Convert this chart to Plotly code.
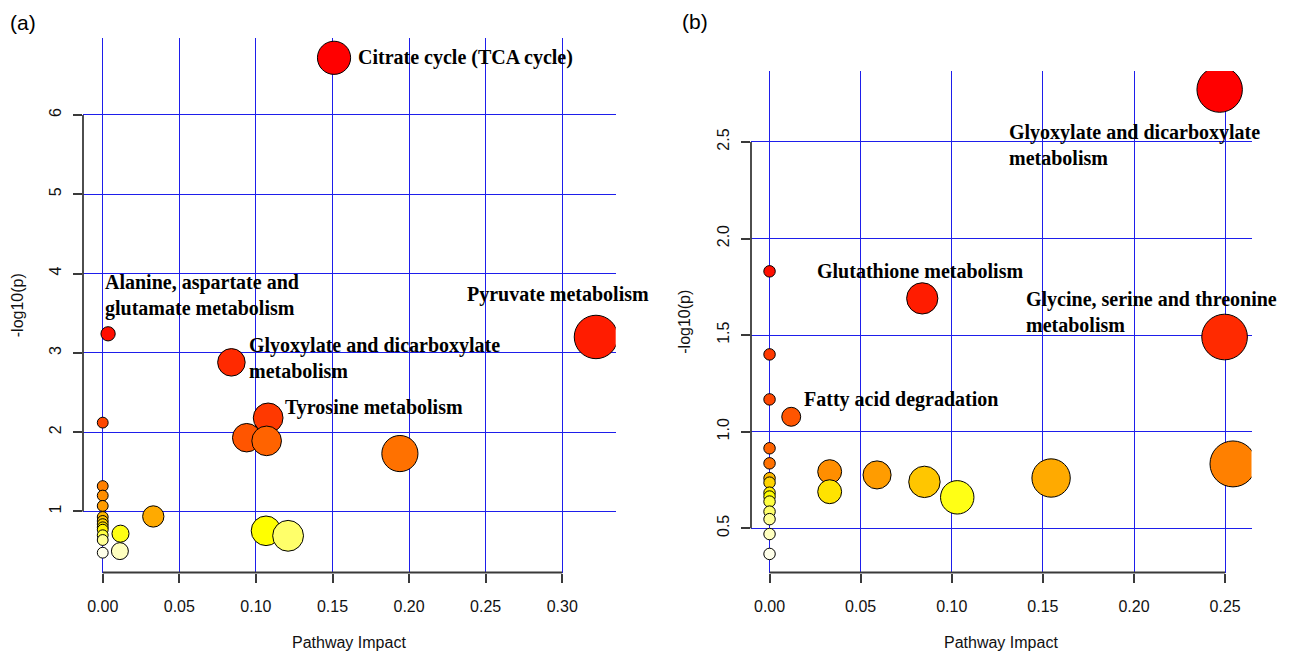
import math
import colorsys
import plotly.graph_objects as go

# ---------------- data ----------------
# Panel (a)
a_impact = [0.151, 0.0035, 0.322, 0.084, 0.108, 0.0, 0.094, 0.107, 0.194,
            0.0, 0.0, 0.0, 0.033, 0.0, 0.0, 0.0, 0.0, 0.0,
            0.1066, 0.0116, 0.0, 0.121, 0.0, 0.0112, 0.0]
a_logp = [6.72, 3.24, 3.20, 2.88, 2.18, 2.12, 1.93, 1.89, 1.73,
          1.32, 1.20, 1.07, 0.937, 0.93, 0.88, 0.84, 0.80, 0.77,
          0.756, 0.72, 0.70, 0.693, 0.64, 0.50, 0.48]
a_names = ["Citrate cycle (TCA cycle)", "Alanine, aspartate and<br>glutamate metabolism",
           "Pyruvate metabolism", "Glyoxylate and dicarboxylate<br>metabolism",
           "Tyrosine metabolism"] + [""] * 20
a_xticks = [0.00, 0.05, 0.10, 0.15, 0.20, 0.25, 0.30]
a_yticks = [1, 2, 3, 4, 5, 6]

# Panel (b)
b_impact = [0.247, 0.0, 0.0838, 0.2497, 0.0, 0.0, 0.0119, 0.0, 0.0, 0.2543,
            0.033, 0.059, 0.1545, 0.0, 0.085, 0.0, 0.033, 0.0, 0.0, 0.103,
            0.0, 0.0, 0.0, 0.0, 0.0]
b_logp = [2.771, 1.83, 1.69, 1.49, 1.40, 1.167, 1.077, 0.914, 0.836, 0.833,
          0.793, 0.776, 0.76, 0.759, 0.74, 0.736, 0.689, 0.684, 0.664, 0.66,
          0.638, 0.586, 0.547, 0.47, 0.367]
b_names = ["Glyoxylate and dicarboxylate<br>metabolism", "", "Glutathione metabolism",
           "Glycine, serine and threonine<br>metabolism", "", "", "Fatty acid degradation"] + [""] * 18
b_xticks = [0.00, 0.05, 0.10, 0.15, 0.20, 0.25]
b_yticks = [0.5, 1.0, 1.5, 2.0, 2.5]

# ---------------- layout geometry (page pixels) ----------------
PAGE_W, PAGE_H = 1290, 657
OFF = 8  # default body margin of the html page
W, H = PAGE_W - OFF, PAGE_H - OFF


def fx(px):
    return (px - OFF) / W


def fy(py):
    return 1 - (py - OFF) / H


# plot boxes (page px): left, right, top, bottom
BOX_A = (83, 615.7, 38, 572.5)
BOX_B = (751, 1251.5, 71, 572.5)

# label placement: name -> (xshift, yshift, xanchor)
LABEL_POS = {
    "Citrate cycle (TCA cycle)": (22, 0, "left"),
    "Alanine, aspartate and<br>glutamate metabolism": (-5, 38, "left"),
    "Pyruvate metabolism": (-38, 42, "center"),
    "Glyoxylate and dicarboxylate<br>metabolism": (16, 4, "left"),
    "Tyrosine metabolism": (15, 10, "left"),
}
LABEL_POS_B = {
    "Glyoxylate and dicarboxylate<br>metabolism": (-213, -55, "left"),
    "Glutathione metabolism": (-107, 27, "left"),
    "Glycine, serine and threonine<br>metabolism": (-201, 25, "left"),
    "Fatty acid degradation": (11, 17, "left"),
}


def heat_colors(n):
    """R's heat.colors(n)."""
    j = n // 4
    i = n - j
    cols = []
    for k in range(i):
        h = (1 / 6) * (k / (i - 1) if i > 1 else 0)
        cols.append(colorsys.hsv_to_rgb(h, 1, 1))
    if j > 0:
        s0, s1 = 1 - 1 / (2 * j), 1 / (2 * j)
        for k in range(j):
            s = s0 + (s1 - s0) * (k / (j - 1) if j > 1 else 0)
            cols.append(colorsys.hsv_to_rgb(1 / 6, s, 1))
    return ["rgb(%d,%d,%d)" % (round(r * 255), round(g * 255), round(b * 255)) for r, g, b in cols]


def r_range(v):
    lo, hi = min(v), max(v)
    d = (hi - lo) * 0.04
    return [lo - d, hi + d]


fig = go.Figure()

panels = [
    ("", a_impact, a_logp, a_names, a_xticks, a_yticks, BOX_A, LABEL_POS, "{:.0f}"),
    ("2", b_impact, b_logp, b_names, b_xticks, b_yticks, BOX_B, LABEL_POS_B, "{:.1f}"),
]

GRID = "rgb(30,30,235)"
AXC = "#3a3a3a"
SANS = "Liberation Sans, Arial, sans-serif"
TICKFONT = dict(family=SANS, size=16, color="#111")
LABFONT = dict(family="Liberation Serif, Times New Roman, serif", size=20, color="#000")

for sfx, xs, ys, names, xt, yt, box, lpos, yfmt in panels:
    L, R, T, B = box
    xr = r_range(xs)
    yr = r_range(ys)
    px_per_x = (R - L) / (xr[1] - xr[0])
    # circle radii as MetaboAnalyst does (in x units, from sqrt impact)
    sq = [math.sqrt(abs(v)) for v in xs]
    mn, mx = min(sq), max(sq)
    maxR = (mx - mn) / 40
    minR = (mx - mn) / 160
    radii = [minR + (maxR - minR) * (s - mn) / (mx - mn) for s in sq]
    order = sorted(range(len(ys)), key=lambda k: -ys[k])
    cols = heat_colors(len(ys))
    fig.add_trace(go.Scatter(
        x=[xs[k] for k in order], y=[ys[k] for k in order],
        mode="markers", xaxis="x" + sfx, yaxis="y" + sfx,
        marker=dict(size=[2 * radii[k] * px_per_x for k in order],
                    color=cols, line=dict(color="#000", width=1), opacity=1),
        hoverinfo="skip", showlegend=False))

    xd = [fx(L), fx(R)]
    yd = [fy(B), fy(T)]
    xa = dict(domain=xd, range=xr, tickvals=xt, ticktext=["%.2f" % v for v in xt],
              showgrid=True, gridcolor=GRID, gridwidth=1.2, zeroline=False, showline=False,
              ticks="outside", ticklen=9, tickwidth=1.5, tickcolor=AXC, tickfont=TICKFONT,
              ticklabelstandoff=10, anchor="y" + sfx, fixedrange=True)
    ya = dict(domain=yd, range=yr, tickvals=yt, ticktext=[yfmt.format(v) for v in yt],
              showgrid=True, gridcolor=GRID, gridwidth=1.2, zeroline=False, showline=False,
              ticks="outside", ticklen=9, tickwidth=1.5, tickcolor=AXC, tickfont=TICKFONT,
              tickangle=-90, ticklabelstandoff=6, anchor="x" + sfx, fixedrange=True)
    fig.layout["xaxis" + sfx] = xa
    fig.layout["yaxis" + sfx] = ya

    # R-style axis lines spanning first to last tick
    fig.add_shape(type="line", xref="x" + sfx, yref=("y" + sfx) + " domain",
                  x0=min(xt), x1=max(xt), y0=0, y1=0, line=dict(color=AXC, width=1.8))
    fig.add_shape(type="line", xref=("x" + sfx) + " domain", yref="y" + sfx,
                  x0=0, x1=0, y0=min(yt), y1=max(yt), line=dict(color=AXC, width=1.8))

    # axis titles
    fig.add_annotation(text="Pathway Impact", xref=("x" + sfx) + " domain", yref=("y" + sfx) + " domain",
                       x=0.5, y=0, yshift=-70, showarrow=False, yanchor="middle",
                       font=dict(family=SANS, size=16, color="#111"))
    fig.add_annotation(text="-log10(p)", xref=("x" + sfx) + " domain", yref=("y" + sfx) + " domain",
                       x=0, y=0.5, xshift=-66, showarrow=False, textangle=-90, xanchor="center",
                       font=dict(family=SANS, size=16, color="#111"))

    # pathway labels
    for k, nm in enumerate(names):
        if not nm:
            continue
        dx, dy, anc = lpos[nm]
        fig.add_annotation(text="<b>" + nm + "</b>", x=xs[k], y=ys[k], xref="x" + sfx, yref="y" + sfx,
                           xshift=dx, yshift=dy, xanchor=anc, yanchor="middle", align="left",
                           showarrow=False, font=LABFONT)

# panel tags
fig.add_annotation(text="(a)", xref="paper", yref="paper", x=fx(23), y=fy(23),
                   showarrow=False, xanchor="center", yanchor="middle",
                   font=dict(family=SANS, size=21, color="#000"))
fig.add_annotation(text="(b)", xref="paper", yref="paper", x=fx(695), y=fy(22),
                   showarrow=False, xanchor="center", yanchor="middle",
                   font=dict(family=SANS, size=21, color="#000"))

fig.update_layout(width=W, height=H, margin=dict(l=0, r=0, t=0, b=0),
                  paper_bgcolor="white", plot_bgcolor="white", showlegend=False)

fig.write_html("out.html", config={"displayModeBar": False})
